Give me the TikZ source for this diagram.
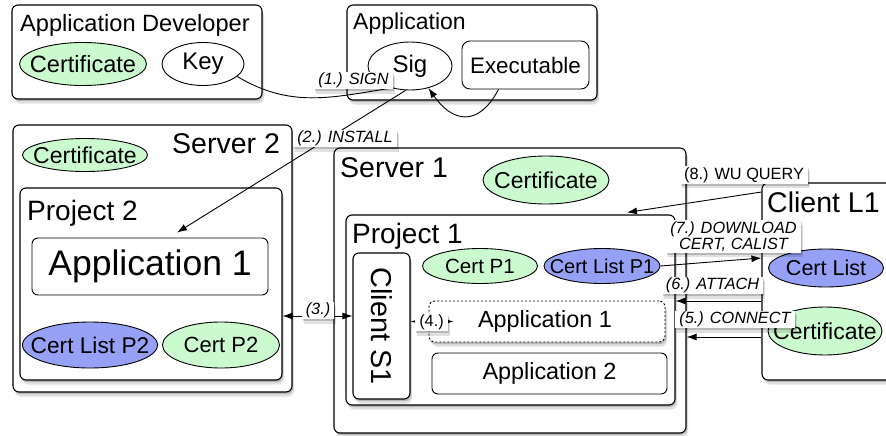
\documentclass[tikz,border=0pt]{standalone}
\usepackage{fontspec}
\setmainfont{Liberation Sans}
\usetikzlibrary{shapes.geometric,arrows.meta,shadows,calc}
\definecolor{cgreen}{RGB}{204,250,207}
\definecolor{cblue}{RGB}{150,160,245}
\newcommand{\fs}[1]{\fontsize{#1}{#1}\selectfont}
\begin{document}
\begin{tikzpicture}[x=1pt,y=-1pt,
 shd/.style={drop shadow={shadow xshift=1pt,shadow yshift=-2pt,opacity=0.18,fill=black},
             drop shadow={shadow xshift=2pt,shadow yshift=-4.5pt,opacity=0.12,fill=black}},
 box/.style={draw,line width=1.1pt,rounded corners=6pt,fill=white,shd,inner sep=0pt},
 ibox/.style={draw,line width=0.9pt,rounded corners=6pt,fill=white,inner sep=0pt},
 ell/.style={ellipse,draw,line width=0.9pt,inner sep=0pt},
 gr/.style={ell,fill=cgreen},
 bl/.style={ell,fill=cblue},
 wh/.style={ell,fill=white},
 ttl/.style={anchor=base west,inner sep=0pt},
 lbl/.style={fill=white,shd,inner xsep=4pt,inner ysep=1pt,font=\fs{16.3}\itshape},
 lblu/.style={fill=white,shd,inner xsep=4pt,inner ysep=1pt,font=\fs{16.3}},
 con/.style={line width=0.9pt},
 arr/.style={con,-{Latex[length=10pt,width=7pt]}},
 darr/.style={con,{Latex[length=10pt,width=7pt]}-{Latex[length=10pt,width=7pt]}}
]
\useasboundingbox (0,0) rectangle (886,436);
\clip (0,0) rectangle (886,436);

% Application Developer
\node[box,minimum width=250,minimum height=94] (dev) at (137,52) {};
\node[ttl,font=\fs{23.6}] (devt) at (20,32) {Application Developer};
\node[gr,minimum width=127,minimum height=43,label={[font=\fs{23.6}]center:Certificate}] (devcert) at (83,64) {};
\node[wh,minimum width=82,minimum height=43,label={[font=\fs{24}]center:Key}] (key) at (203,64) {};

% Application
\node[box,minimum width=250,minimum height=95] (app) at (472,52.5) {};
\node[ttl,font=\fs{23}] (appt) at (353,30) {Application};
\node[wh,minimum width=84,minimum height=48,label={[font=\fs{24}]center:Sig}] (sig) at (410,66) {};
\node[ibox,rounded corners=8pt,minimum width=127,minimum height=48,font=\fs{22.4}] (exe) at (525.5,65) {Executable};

% Server 2
\node[box,minimum width=279,minimum height=267] (s2) at (152.5,258.5) {};
\node[ttl,font=\fs{28.5}] (s2t) at (172,153) {Server 2};
\node[gr,minimum width=125,minimum height=33,label={[font=\fs{23}]center:Certificate}] (s2cert) at (85,155) {};
\node[box,minimum width=262,minimum height=192] (p2) at (151,284) {};
\node[ttl,font=\fs{28}] (p2t) at (27,220) {Project 2};
\node[ibox,minimum width=236,minimum height=57,font=\fs{35.5}] (p2app) at (150,266.5) {Application 1};
\node[bl,minimum width=135,minimum height=46,label={[font=\fs{22.7}]center:Cert List P2}] (p2cl) at (90,345) {};
\node[gr,minimum width=117,minimum height=46,label={[font=\fs{22}]center:Cert P2}] (p2c) at (221,345) {};

% Server 1
\node[box,minimum width=352,minimum height=285] (s1) at (510,290.5) {};
\node[ttl,font=\fs{28.5}] (s1t) at (340,177) {Server 1};
\node[gr,minimum width=126,minimum height=48,label={[font=\fs{23}]center:Certificate}] (s1cert) at (546,180) {};
\node[box,minimum width=329,minimum height=190] (p1) at (510.5,310) {};
\node[ttl,font=\fs{28}] (p1t) at (352,243) {Project 1};
\node[box,minimum width=57,minimum height=146] (cs1) at (381.5,326) {};
\node[rotate=-90,font=\fs{28.8}] (cs1t) at (cs1) {Client S1};
\node[gr,minimum width=115,minimum height=35,label={[font=\fs{20.6}]center:Cert P1}] (p1c) at (480,266) {};
\node[bl,minimum width=116,minimum height=35,label={[font=\fs{20}]center:Cert List P1}] (p1cl) at (602,266) {};
\node[ibox,dash pattern=on 2pt off 2pt,minimum width=236,minimum height=41,shd] (p1app) at (547,321.5) {};
\node[font=\fs{23.4}] (p1appt) at (545,321.5) {Application 1};
\node[ibox,minimum width=235,minimum height=41,font=\fs{23.4}] (p1app2) at (549.5,373.5) {Application 2};

% Client L1
\node[box,minimum width=143,minimum height=197] (cl1) at (833.5,281.5) {};
\node[ttl,font=\fs{28.5}] (cl1t) at (767,212) {Client L1};
\node[bl,minimum width=115,minimum height=38,label={[font=\fs{21.5}]center:Cert List}] (cl1cl) at (826,268) {};
\node[gr,minimum width=114,minimum height=48,label={[font=\fs{23}]center:Certificate}] (cl1c) at (825,331) {};

% connectors
\draw[con] (key.-20) .. controls (290,108) and (330,98) .. (sig.230);
\draw[arr] ($(exe.south)+(-27,0)$) .. controls (478,128) and (452,122) .. (sig.-50);
\draw[arr] (sig.-100) -- ($(p2app.north)+(27,-5)$);
\coordinate (c3) at ($(cs1.west)+(0,-10)$);
\draw[darr] (p2.east |- c3) -- (c3);
\coordinate (c4) at ($(p1app.west)+(25,0)$);
\draw[darr] (cs1.east |- c4) -- (c4);
\coordinate (c5) at ($(cl1.west)+(0,55.5)$);
\draw[arr] (c5) -- (s1.east |- c5);
\coordinate (c6) at ($(cl1.west)+(0,19.5)$);
\draw[arr] (c6) -- (p1.east |- c6);
\draw[arr] (p1cl.east) -- ($(cl1.west)+(0,-23.5)$);
\draw[arr] ($(cl1.west)+(0,-89.5)$) -- ($(p1.north)+(116.5,-2)$);

% labels
\node[lbl] (l1) at (353.5,80.5) {(1.) SIGN};
\node[lbl] (l2) at (345,138.5) {(2.) INSTALL};
\node[lbl] (l3) at (318,310.5) {(3.)};
\node[lblu] (l4) at (431.5,322.5) {(4.)};
\node[lbl] (l5) at (735,319.5) {(5.) CONNECT};
\node[lbl] (l6) at (712.5,285.5) {(6.) ATTACH};
\node[lbl,align=center] (l7) at (733.5,236.5) {(7.) DOWNLOAD\\CERT, CALIST};
\node[lblu] (l8) at (744,175) {(8.) WU QUERY};
\end{tikzpicture}
\end{document}
